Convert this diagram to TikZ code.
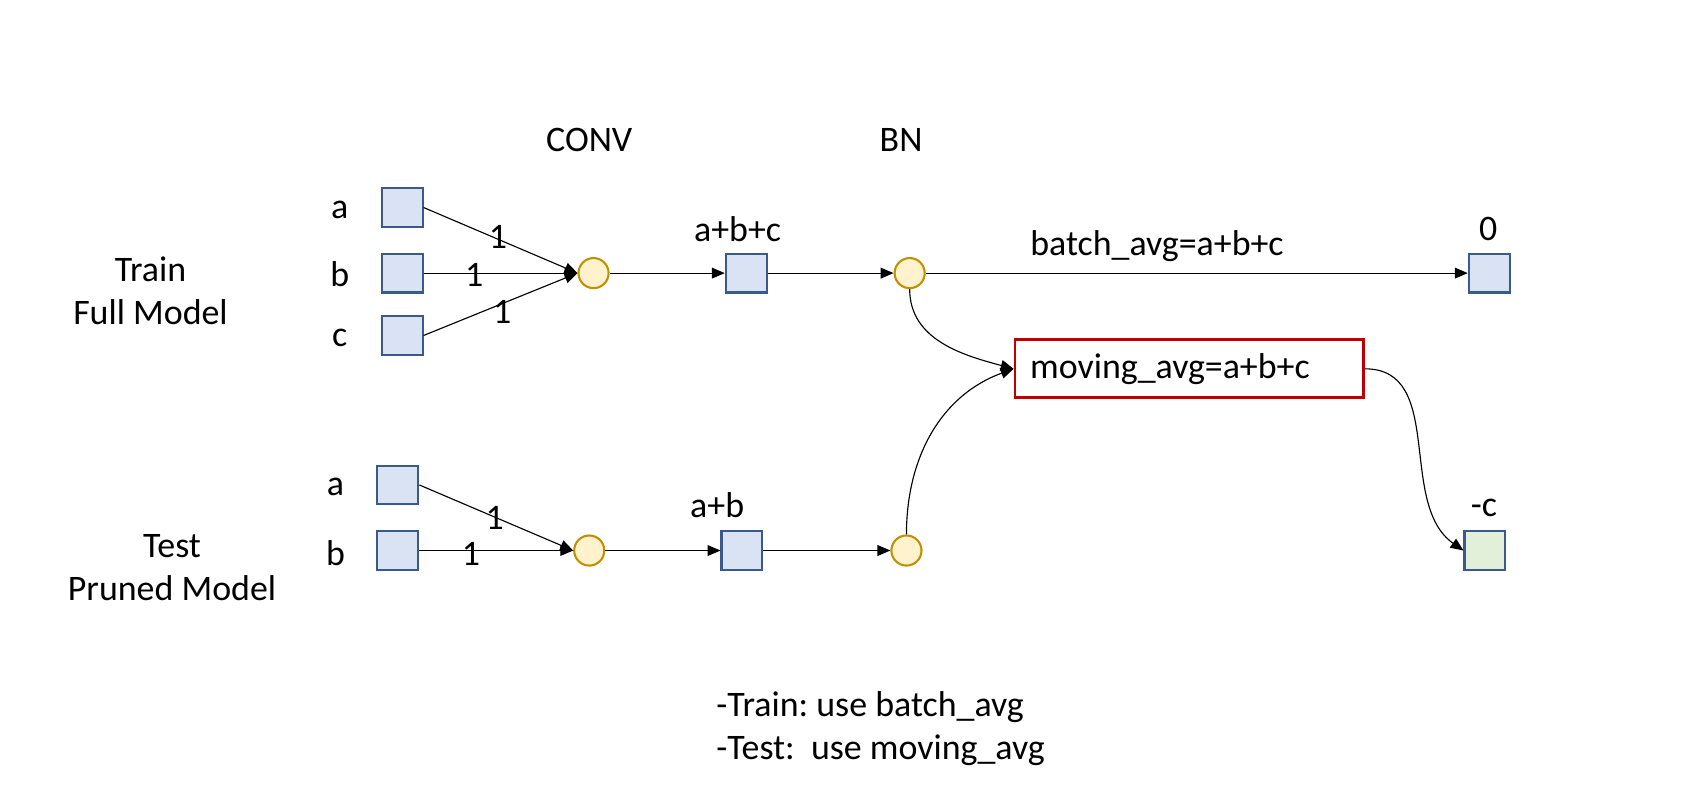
\documentclass[tikz,border=0pt]{standalone}
\usepackage{fontspec}
\setmainfont{Carlito}
\usepackage{tikz}
\usepackage{xcolor}
\usetikzlibrary{arrows.meta, positioning}
\frenchspacing
\definecolor{cSqFill}{HTML}{DAE3F3}
\definecolor{cSqDraw}{HTML}{3A5A8C}
\definecolor{cCircFill}{HTML}{FFF2CC}
\definecolor{cCircDraw}{HTML}{BF9000}
\definecolor{cGreenFill}{HTML}{E2F0D9}
\definecolor{cRed}{HTML}{C00000}
\tikzset{
	unit/.style   ={rectangle, draw=cSqDraw, line width=1.1pt, fill=cSqFill, minimum width=0.76cm, minimum height=0.72cm, inner sep=0pt},
	neuron/.style ={circle, draw=cCircDraw, line width=1.1pt, fill=cCircFill, minimum size=0.56cm, inner sep=0pt},
	avgbox/.style ={rectangle, draw=cRed, line width=1.5pt, minimum height=1.08cm, text width=5.92cm, align=left, inner xsep=0.28cm},
	wire/.style   ={-{Triangle[length=0.24cm, width=0.2cm]}, line width=0.6pt},
}

\begin{document}
\begin{tikzpicture}[font=\fontsize{19}{23}\selectfont]
	\useasboundingbox (0,0) rectangle (31.36,14.6);
	% layer titles
	\node (convTitle) at (10.96,12.0) {CONV};
	\node (bnTitle) at (16.76,12.0) {BN};
	% train, full model
	\node[align=center] (trainTitle) at (2.8,9.19) {Train\\Full Model};
	\node[unit] (trA) at (7.48,10.74) {};
	\node[unit] (trB) at (7.48,9.52) {};
	\node[unit] (trC) at (7.48,8.36) {};
	\node (trALab) at (6.32,10.7) {a};
	\node (trBLab) at (6.32,9.5) {b};
	\node (trCLab) at (6.32,8.32) {c};
	\node[neuron] (trConv) at (11.04,9.52) {};
	\node[unit] (trSum) at (13.88,9.52) {};
	\node (trSumLab) at (13.72,10.34) {a+b+c};
	\node[neuron] (trBn) at (16.92,9.52) {};
	\node[unit] (trOut) at (27.70,9.52) {};
	\node (trOutLab) at (27.68,10.34) {0};
	\node (batchLab) at (21.52,10.02) {batch\_avg=a+b+c};
	% weights
	\node (wA) at (9.26,10.2) {1};
	\node (wB) at (8.82,9.48) {1};
	\node (wC) at (9.34,8.8) {1};
	% running average
	\node[avgbox] (movAvg) at (22.12,7.74) {moving\_avg=a+b+c};
	% test, pruned model
	\node[align=center] (testTitle) at (3.2,4.04) {Test\\Pruned Model};
	\node[unit] (teA) at (7.40,5.58) {};
	\node[unit] (teB) at (7.40,4.36) {};
	\node (teALab) at (6.24,5.54) {a};
	\node (teBLab) at (6.24,4.32) {b};
	\node[neuron] (teConv) at (10.96,4.36) {};
	\node[unit] (teSum) at (13.80,4.36) {};
	\node (teSumLab) at (13.34,5.2) {a+b};
	\node[neuron] (teBn) at (16.86,4.36) {};
	\node[unit, fill=cGreenFill] (teOut) at (27.62,4.36) {};
	\node (teOutLab) at (27.6,5.16) {-c};
	\node (wPA) at (9.2,4.96) {1};
	\node (wPB) at (8.76,4.3) {1};
	% note
	\node[anchor=west, align=left] (note) at (13.2,1.05) {-Train: use batch\_avg\\-Test:\ \ use moving\_avg};
	% connectors
	\draw[wire] (trA.east) -- (trConv.west);
	\draw[wire] (trB.east) -- (trConv.west);
	\draw[wire] (trC.east) -- (trConv.west);
	\draw[wire] (trConv) -- (trSum);
	\draw[wire] (trSum) -- (trBn);
	\draw[wire] (trBn) -- (trOut);
	\draw[wire] (teA.east) -- (teConv.west);
	\draw[wire] (teB.east) -- (teConv.west);
	\draw[wire] (teConv) -- (teSum);
	\draw[wire] (teSum) -- (teBn);
	\draw[wire] (trBn.south) to[out=-90, in=165] (movAvg.west);
	\draw[wire] (teBn.north) to[out=90, in=-160] (movAvg.west);
	\draw[wire] (movAvg.east) to[out=0, in=145] (teOut.west);
\end{tikzpicture}
\end{document}
